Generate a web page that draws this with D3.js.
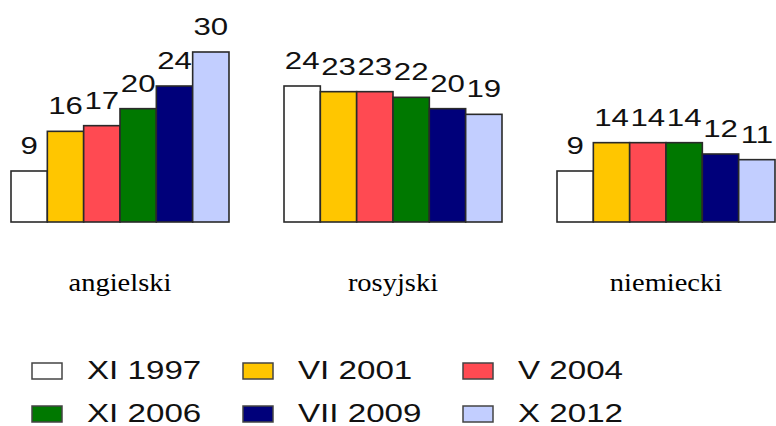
<!DOCTYPE html>
<html>
<head>
<meta charset="utf-8">
<script src="https://cdn.jsdelivr.net/npm/d3@7"></script>
<style>
  body { margin: 0; background: #fff; }
  svg { display: block; }
</style>
</head>
<body>
<div id="chart"></div>
<script>
// data
const categories = ["angielski", "rosyjski", "niemiecki"];
const series = ["XI 1997", "VI 2001", "V 2004", "XI 2006", "VII 2009", "X 2012"];
const values = [
  [9, 16, 17, 20, 24, 30],   // angielski
  [24, 23, 23, 22, 20, 19],  // rosyjski
  [9, 14, 14, 14, 12, 11]    // niemiecki
];
const colors = ["#ffffff", "#ffc600", "#ff4a52", "#007800", "#00007a", "#c2ceff"];

const width = 776, height = 426;
const stretch = 1.3; // the picture's text is wider than normal

const svg = d3.select("#chart").append("svg")
    .attr("width", width)
    .attr("height", height);

// scales
const x0 = d3.scaleBand()
    .domain(categories)
    .range([11, 775])
    .paddingInner(0.2015);

const x1 = d3.scaleBand()
    .domain(series)
    .range([0, x0.bandwidth()]);

const y = d3.scaleLinear()
    .domain([0, 30])
    .range([222, 52]);

const color = d3.scaleOrdinal().domain(series).range(colors);

// groups of bars
const groups = svg.append("g")
    .selectAll("g")
    .data(categories)
    .enter().append("g")
    .attr("transform", d => `translate(${x0(d)},0)`);

groups.selectAll("rect")
    .data((d, i) => values[i].map((v, j) => ({ s: series[j], v: v })))
    .enter().append("rect")
    .attr("x", d => x1(d.s))
    .attr("y", d => y(d.v))
    .attr("width", x1.bandwidth())
    .attr("height", d => y(0) - y(d.v))
    .attr("fill", d => color(d.s))
    .attr("stroke", "#2a2a2a")
    .attr("stroke-width", 1.6);

// value labels
groups.selectAll("text")
    .data((d, i) => values[i].map((v, j) => ({ s: series[j], v: v })))
    .enter().append("text")
    .attr("transform", d => `translate(${x1(d.s) + x1.bandwidth() / 2},${y(d.v) - 17}) scale(${stretch},1)`)
    .attr("text-anchor", "middle")
    .style("font-family", "'Liberation Sans', Arial, sans-serif")
    .style("font-size", "24px")
    .style("fill", "#111")
    .text(d => d.v);

// category labels
svg.append("g")
    .selectAll("text")
    .data(categories)
    .enter().append("text")
    .attr("transform", d => `translate(${x0(d) + x0.bandwidth() / 2},291) scale(1.14,1)`)
    .attr("text-anchor", "middle")
    .style("font-family", "'Liberation Serif', 'Times New Roman', serif")
    .style("font-size", "25px")
    .style("fill", "#000")
    .text(d => d);

// legend
const legendCols = [32, 243, 463];
const legendRows = [379, 422];

const legend = svg.append("g")
    .selectAll("g")
    .data(series)
    .enter().append("g")
    .attr("transform", (d, i) => `translate(${legendCols[i % 3]},${legendRows[Math.floor(i / 3)]})`);

legend.append("rect")
    .attr("x", 0)
    .attr("y", -16)
    .attr("width", 30)
    .attr("height", 16)
    .attr("fill", d => color(d))
    .attr("stroke", "#444")
    .attr("stroke-width", 1.5);

legend.append("text")
    .attr("transform", `translate(55,0) scale(${stretch},1)`)
    .style("font-family", "'Liberation Sans', Arial, sans-serif")
    .style("font-size", "25.5px")
    .style("fill", "#111")
    .text(d => d);
</script>
</body>
</html>
